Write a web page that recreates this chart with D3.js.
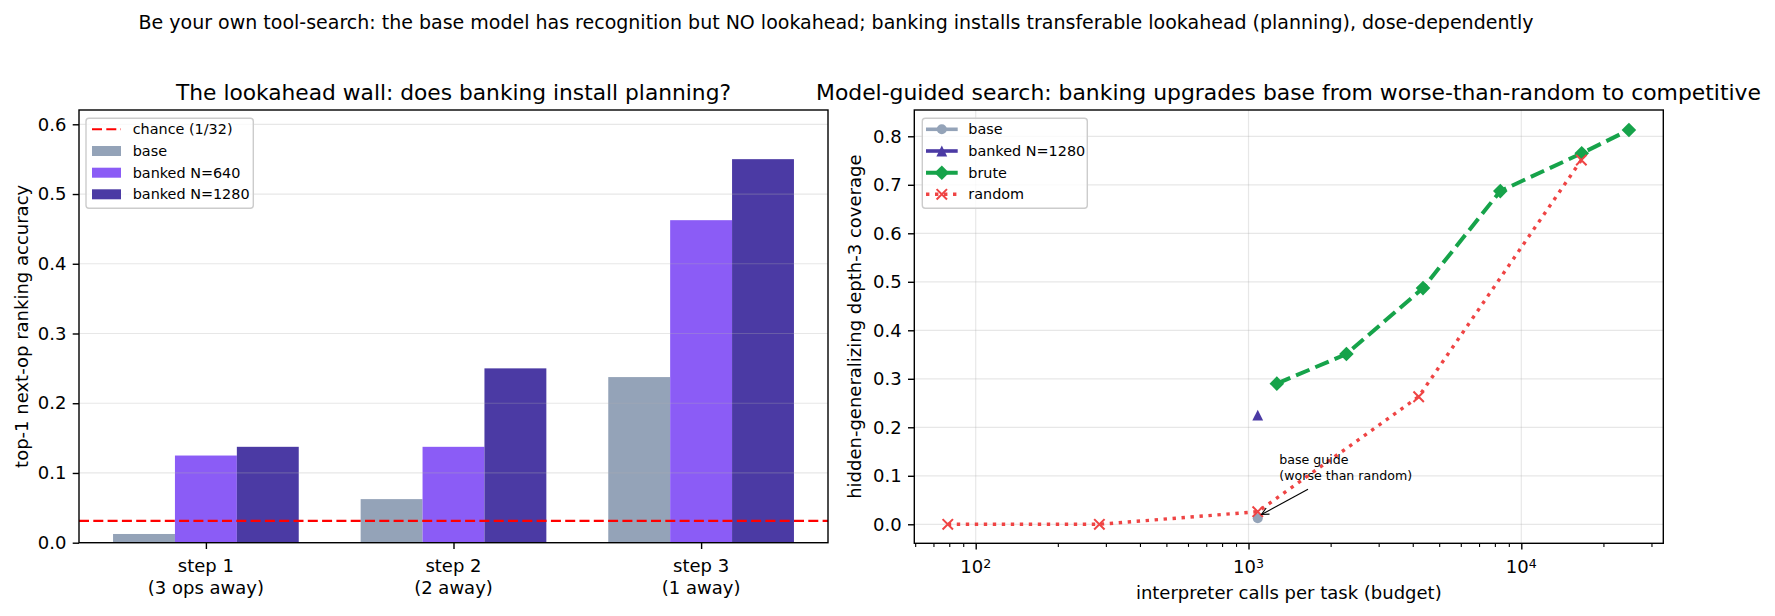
<!DOCTYPE html>
<html><head><meta charset="utf-8">
<script src="https://cdn.jsdelivr.net/npm/d3@7"></script>
<style>
body{margin:0;background:#fff}
svg{display:block}
text{font-family:"DejaVu Sans",sans-serif;fill:#000}
</style>
</head><body><svg id="c" width="1775" height="616"></svg>
<script>
// ---------------- data ----------------
const suptitle = "Be your own tool-search: the base model has recognition but NO lookahead; banking installs transferable lookahead (planning), dose-dependently";
const leftTitle = "The lookahead wall: does banking install planning?";
const rightTitle = "Model-guided search: banking upgrades base from worse-than-random to competitive";

const steps = [["step 1", "(3 ops away)"], ["step 2", "(2 away)"], ["step 3", "(1 away)"]];
const barSeriesNames = ["base", "banked N=640", "banked N=1280"];
const baseAcc = [0.0125, 0.0625, 0.2375];
const banked640Acc = [0.125, 0.1375, 0.4625];
const banked1280Acc = [0.1375, 0.25, 0.55];
const chance = 1 / 32;
const leftYTicks = [0, 0.1, 0.2, 0.3, 0.4, 0.5, 0.6];

const randomBudget = [79, 284, 1081, 4205, 16600];
const randomCov = [0.0, 0.0, 0.026, 0.263, 0.751];
const bruteBudget = [1270, 2285, 4362, 8375, 16650, 24800];
const bruteCov = [0.29, 0.351, 0.487, 0.687, 0.765, 0.813];
const baseBudget = [1081];
const baseCov = [0.0125];
const bankedBudget = [1081];
const bankedCov = [0.225];
const rightYTicks = [0, 0.1, 0.2, 0.3, 0.4, 0.5, 0.6, 0.7, 0.8];
const rightXTicks = [100, 1000, 10000];

// ---------------- styles ----------------
const C_BASE = "#94a3b8", C_640 = "#8b5cf6", C_1280 = "#4b3aa4", C_BRUTE = "#16a34a", C_RAND = "#ef4444";
const FS_TICK = 18, FS_TITLE = 21.7, FS_LEG = 14.4, FS_ANN = 12.6;

const svg = d3.select("#c");
svg.append("rect").attr("width", 1775).attr("height", 616).attr("fill", "#fff");

function fit(sel, target) {
  const w = sel.node().getComputedTextLength();
  const fs = parseFloat(sel.attr("font-size"));
  sel.attr("font-size", fs * target / w);
}

// suptitle
const st = svg.append("text").attr("x", 836).attr("y", 21.7).attr("dy", "0.36em")
  .attr("text-anchor", "middle").attr("font-size", 18).text(suptitle);
fit(st, 1396);

// ---------------- left panel ----------------
const L = {x0: 79, x1: 828, y0: 110, y1: 542.7};
const xL = d3.scaleLinear().domain([-0.5125, 2.5125]).range([L.x0, L.x1]);
const yL = d3.scaleLinear().domain([0, 0.6205]).range([L.y1, L.y0]);
const gl = svg.append("g");

const barSets = [baseAcc, banked640Acc, banked1280Acc];
const barCols = [C_BASE, C_640, C_1280];
const bw = 0.25;
barSets.forEach((vals, j) => {
  gl.selectAll(null).data(vals).enter().append("rect")
    .attr("x", (d, i) => xL(i + (j - 1) * bw - bw / 2))
    .attr("width", xL(bw) - xL(0))
    .attr("y", d => yL(d))
    .attr("height", d => yL(0) - yL(d))
    .attr("fill", barCols[j]);
});
// grid (above bars)
gl.selectAll(null).data(leftYTicks).enter().append("line")
  .attr("x1", L.x0).attr("x2", L.x1).attr("y1", d => yL(d)).attr("y2", d => yL(d))
  .attr("stroke", "#b0b0b0").attr("stroke-opacity", 0.3).attr("stroke-width", 1.2);
// chance line
gl.append("line").attr("x1", L.x0).attr("x2", L.x1).attr("y1", yL(chance)).attr("y2", yL(chance))
  .attr("stroke", "red").attr("stroke-width", 2.1).attr("stroke-dasharray", "10,4.3");

// axes
const yAxL = gl.append("g").attr("transform", `translate(${L.x0},0)`)
  .call(d3.axisLeft(yL).tickValues(leftYTicks).tickFormat(d3.format(".1f")).tickSize(6.3).tickPadding(6.3));
const xAxL = gl.append("g").attr("transform", `translate(0,${L.y1})`)
  .call(d3.axisBottom(xL).tickValues([0, 1, 2]).tickFormat("").tickSize(6.3));
[yAxL, xAxL].forEach(a => {
  a.select(".domain").remove();
  a.selectAll(".tick line").attr("stroke", "#000").attr("stroke-width", 1.4);
  a.selectAll("text").attr("font-size", FS_TICK).attr("font-family", "DejaVu Sans").attr("fill", "#000");
});
steps.forEach((s, i) => {
  s.forEach((line, k) => {
    gl.append("text").attr("x", xL(i)).attr("y", 565.7 + k * 22).attr("dy", "0.36em")
      .attr("text-anchor", "middle").attr("font-size", FS_TICK).text(line);
  });
});
gl.append("rect").attr("x", L.x0).attr("y", L.y0).attr("width", L.x1 - L.x0).attr("height", L.y1 - L.y0)
  .attr("fill", "none").attr("stroke", "#000").attr("stroke-width", 1.4);
gl.append("text").attr("transform", `translate(21.7,${(L.y0 + L.y1) / 2}) rotate(-90)`).attr("dy", "0.36em")
  .attr("text-anchor", "middle").attr("font-size", FS_TICK).text("top-1 next-op ranking accuracy");
const tl = gl.append("text").attr("x", (L.x0 + L.x1) / 2).attr("y", 91.7).attr("dy", "0.36em")
  .attr("text-anchor", "middle").attr("font-size", FS_TITLE).text(leftTitle);
fit(tl, 555);

// left legend
const legL = gl.append("g");
legL.append("rect").attr("x", 86).attr("y", 118.3).attr("width", 167.3).attr("height", 90).attr("rx", 3)
  .attr("fill", "#fff").attr("fill-opacity", 0.8).attr("stroke", "#cccccc").attr("stroke-width", 1.4);
const legRows = [129.3, 151, 172.7, 194.3];
legL.append("line").attr("x1", 92).attr("x2", 121).attr("y1", legRows[0]).attr("y2", legRows[0])
  .attr("stroke", "red").attr("stroke-width", 2.1).attr("stroke-dasharray", "10,4.3");
barSeriesNames.forEach((n, j) => {
  legL.append("rect").attr("x", 92).attr("y", legRows[j + 1] - 5).attr("width", 29).attr("height", 10).attr("fill", barCols[j]);
});
["chance (1/32)"].concat(barSeriesNames).forEach((t, k) => {
  legL.append("text").attr("x", 132.7).attr("y", legRows[k]).attr("dy", "0.36em").attr("font-size", FS_LEG).text(t);
});

// ---------------- right panel ----------------
const R = {x0: 914.3, x1: 1663.3, y0: 110, y1: 543.3};
const xR = d3.scaleLog().domain([Math.pow(10, 1.7749), Math.pow(10, 4.5205)]).range([R.x0, R.x1]);
const yR = d3.scaleLinear().domain([-0.0392, 0.8542]).range([R.y1, R.y0]);
const gr = svg.append("g");

gr.selectAll(null).data(rightYTicks).enter().append("line")
  .attr("x1", R.x0).attr("x2", R.x1).attr("y1", d => yR(d)).attr("y2", d => yR(d))
  .attr("stroke", "#b0b0b0").attr("stroke-opacity", 0.3).attr("stroke-width", 1.2);
gr.selectAll(null).data(rightXTicks).enter().append("line")
  .attr("y1", R.y0).attr("y2", R.y1).attr("x1", d => xR(d)).attr("x2", d => xR(d))
  .attr("stroke", "#b0b0b0").attr("stroke-opacity", 0.3).attr("stroke-width", 1.2);

const lineGen = d3.line().x(d => xR(d[0])).y(d => yR(d[1]));
const randPts = randomBudget.map((b, i) => [b, randomCov[i]]);
const brutePts = bruteBudget.map((b, i) => [b, bruteCov[i]]);
const basePts = baseBudget.map((b, i) => [b, baseCov[i]]);
const bankedPts = bankedBudget.map((b, i) => [b, bankedCov[i]]);

const diamond = r => `M0,${-r}L${r},0L0,${r}L${-r},0Z`;
const tri = r => `M0,${-r}L${r},${r}L${-r},${r}Z`;
function xMark(g, x, y, r, col) {
  g.append("path").attr("d", `M${x - r},${y - r}L${x + r},${y + r}M${x - r},${y + r}L${x + r},${y - r}`)
    .attr("stroke", col).attr("stroke-width", 2).attr("fill", "none");
}

// base
gr.append("path").attr("d", lineGen(basePts)).attr("fill", "none").attr("stroke", C_BASE).attr("stroke-width", 3.6);
gr.selectAll(null).data(basePts).enter().append("circle").attr("cx", d => xR(d[0])).attr("cy", d => yR(d[1]))
  .attr("r", 5).attr("fill", C_BASE);
// banked
gr.append("path").attr("d", lineGen(bankedPts)).attr("fill", "none").attr("stroke", C_1280).attr("stroke-width", 3.6);
gr.selectAll(null).data(bankedPts).enter().append("path")
  .attr("transform", d => `translate(${xR(d[0])},${yR(d[1])})`).attr("d", tri(5.4)).attr("fill", C_1280);
// brute
gr.append("path").attr("d", lineGen(brutePts)).attr("fill", "none").attr("stroke", C_BRUTE)
  .attr("stroke-width", 4).attr("stroke-dasharray", "14.6,6.3");
gr.selectAll(null).data(brutePts).enter().append("path")
  .attr("transform", d => `translate(${xR(d[0])},${yR(d[1])})`).attr("d", diamond(7.3)).attr("fill", C_BRUTE);
// random
gr.append("path").attr("d", lineGen(randPts)).attr("fill", "none").attr("stroke", C_RAND)
  .attr("stroke-width", 3.4).attr("stroke-dasharray", "3.4,5.6");
randPts.forEach(d => xMark(gr, xR(d[0]), yR(d[1]), 5.2, C_RAND));

// annotation
const ann = gr.append("g");
ann.append("text").attr("x", 1279.3).attr("y", 459).attr("dy", "0.36em").attr("font-size", FS_ANN).text("base guide");
ann.append("text").attr("x", 1279.3).attr("y", 475.7).attr("dy", "0.36em").attr("font-size", FS_ANN).text("(worse than random)");
{
  const tx = 1308, ty = 489.3, hx = 1261.5, hy = 514.5;
  ann.append("line").attr("x1", tx).attr("y1", ty).attr("x2", hx).attr("y2", hy).attr("stroke", "#000").attr("stroke-width", 1.1);
  const ang = Math.atan2(ty - hy, tx - hx), len = 8, spread = 0.45;
  ann.append("path").attr("d",
    `M${hx + len * Math.cos(ang + spread)},${hy + len * Math.sin(ang + spread)}L${hx},${hy}L${hx + len * Math.cos(ang - spread)},${hy + len * Math.sin(ang - spread)}`)
    .attr("fill", "none").attr("stroke", "#000").attr("stroke-width", 1.1);
}

// axes
const yAxR = gr.append("g").attr("transform", `translate(${R.x0},0)`)
  .call(d3.axisLeft(yR).tickValues(rightYTicks).tickFormat(d3.format(".1f")).tickSize(6.3).tickPadding(6.3));
const minorTicks = [];
[10, 100, 1000, 10000].forEach(dec => { for (let m = 2; m <= 9; m++) { const v = dec * m; if (v > xR.domain()[0] && v < xR.domain()[1]) minorTicks.push(v); } });
const xAxRminor = gr.append("g").attr("transform", `translate(0,${R.y1})`)
  .call(d3.axisBottom(xR).tickValues(minorTicks).tickFormat("").tickSize(3.6));
const xAxR = gr.append("g").attr("transform", `translate(0,${R.y1})`)
  .call(d3.axisBottom(xR).tickValues(rightXTicks).tickFormat("").tickSize(6.3));
[yAxR, xAxR, xAxRminor].forEach(a => {
  a.select(".domain").remove();
  a.selectAll(".tick line").attr("stroke", "#000").attr("stroke-width", 1.4);
  a.selectAll("text").attr("font-size", FS_TICK).attr("font-family", "DejaVu Sans").attr("fill", "#000");
});
xAxRminor.selectAll(".tick line").attr("stroke-width", 1.1);
rightXTicks.forEach(v => {
  const t = gr.append("text").attr("x", xR(v)).attr("y", 566.7).attr("dy", "0.36em")
    .attr("text-anchor", "middle").attr("font-size", FS_TICK);
  t.append("tspan").text("10");
  t.append("tspan").attr("dy", "-0.45em").attr("font-size", FS_TICK * 0.7).text(String(Math.round(Math.log10(v))));
});
gr.append("rect").attr("x", R.x0).attr("y", R.y0).attr("width", R.x1 - R.x0).attr("height", R.y1 - R.y0)
  .attr("fill", "none").attr("stroke", "#000").attr("stroke-width", 1.4);
gr.append("text").attr("transform", `translate(855,${(R.y0 + R.y1) / 2}) rotate(-90)`).attr("dy", "0.36em")
  .attr("text-anchor", "middle").attr("font-size", FS_TICK).text("hidden-generalizing depth-3 coverage");
gr.append("text").attr("x", (R.x0 + R.x1) / 2).attr("y", 592.3).attr("dy", "0.36em")
  .attr("text-anchor", "middle").attr("font-size", FS_TICK).text("interpreter calls per task (budget)");
const tr = gr.append("text").attr("x", 1288.5).attr("y", 91.7).attr("dy", "0.36em")
  .attr("text-anchor", "middle").attr("font-size", FS_TITLE).text(rightTitle);
fit(tr, 945);

// right legend
const legR = gr.append("g");
legR.append("rect").attr("x", 922.3).attr("y", 118.3).attr("width", 165).attr("height", 90).attr("rx", 3)
  .attr("fill", "#fff").attr("fill-opacity", 0.8).attr("stroke", "#cccccc").attr("stroke-width", 1.4);
const hx0 = 926, hx1 = 957.7, hm = 941.8;
// base
legR.append("line").attr("x1", hx0).attr("x2", hx1).attr("y1", legRows[0]).attr("y2", legRows[0]).attr("stroke", C_BASE).attr("stroke-width", 3.6);
legR.append("circle").attr("cx", hm).attr("cy", legRows[0]).attr("r", 5).attr("fill", C_BASE);
// banked
legR.append("line").attr("x1", hx0).attr("x2", hx1).attr("y1", legRows[1]).attr("y2", legRows[1]).attr("stroke", C_1280).attr("stroke-width", 3.6);
legR.append("path").attr("transform", `translate(${hm},${legRows[1]})`).attr("d", tri(5.4)).attr("fill", C_1280);
// brute
legR.append("line").attr("x1", hx0).attr("x2", hx1).attr("y1", legRows[2]).attr("y2", legRows[2]).attr("stroke", C_BRUTE)
  .attr("stroke-width", 4).attr("stroke-dasharray", "14.6,6.3");
legR.append("path").attr("transform", `translate(${hm},${legRows[2]})`).attr("d", diamond(7.3)).attr("fill", C_BRUTE);
// random
legR.append("line").attr("x1", hx0).attr("x2", hx1).attr("y1", legRows[3]).attr("y2", legRows[3]).attr("stroke", C_RAND)
  .attr("stroke-width", 3.4).attr("stroke-dasharray", "3.4,5.6");
xMark(legR, hm, legRows[3], 5.2, C_RAND);
["base", "banked N=1280", "brute", "random"].forEach((t, k) => {
  legR.append("text").attr("x", 968.3).attr("y", legRows[k]).attr("dy", "0.36em").attr("font-size", FS_LEG).text(t);
});
</script></body></html>
